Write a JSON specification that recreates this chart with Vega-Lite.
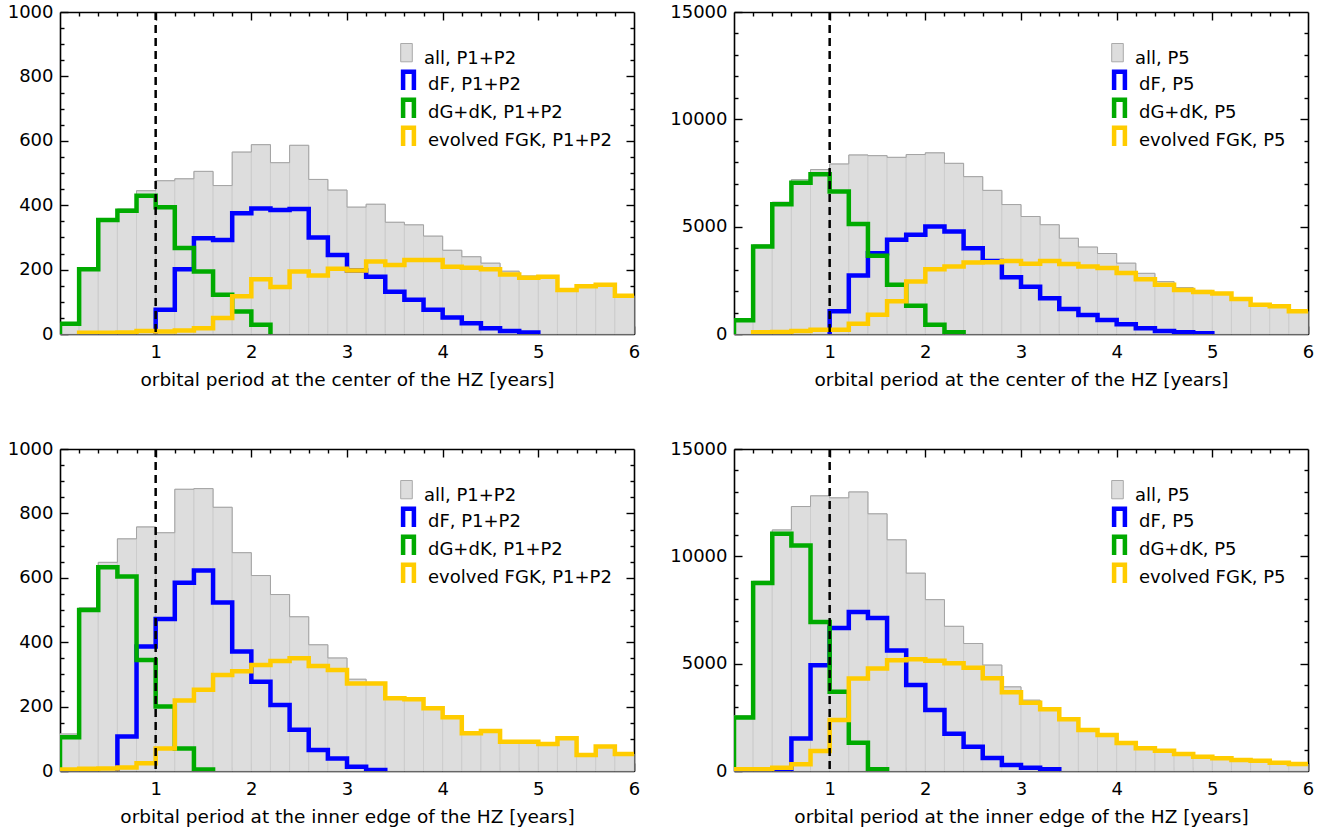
{
"$schema":"https://vega.github.io/schema/vega-lite/v6.json",
"padding":{"left":7,"top":3,"right":5,"bottom":5},
"background":"white",
"config":{"font":"DejaVu Sans","view":{"stroke":null},
"axis":{"labelFont":"DejaVu Sans","labelFontSize":18,"labelColor":"#000","titleFont":"DejaVu Sans","titleFontSize":18.5,"titleFontWeight":"normal","titleColor":"#000","domainColor":"#000","domainWidth":1.6,"tickColor":"#000","tickWidth":1.4,"grid":false,"zindex":1,"labelFlush":false},
"legend":{"labelFont":"DejaVu Sans","labelFontSize":18,"labelColor":"#000","title":null,"symbolSize":400,"labelOffset":7,"rowPadding":-11,"labelLimit":300}},
"datasets":{
"b1":[{"g":"all, P1+P2","x0":0,"x1":0.2,"all":34},{"g":"all, P1+P2","x0":0.2,"x1":0.4,"all":204},{"g":"all, P1+P2","x0":0.4,"x1":0.6,"all":356},{"g":"all, P1+P2","x0":0.6,"x1":0.8,"all":388},{"g":"all, P1+P2","x0":0.8,"x1":1.0,"all":445},{"g":"all, P1+P2","x0":1.0,"x1":1.2,"all":476},{"g":"all, P1+P2","x0":1.2,"x1":1.4,"all":482},{"g":"all, P1+P2","x0":1.4,"x1":1.6,"all":505},{"g":"all, P1+P2","x0":1.6,"x1":1.8,"all":461},{"g":"all, P1+P2","x0":1.8,"x1":2.0,"all":565},{"g":"all, P1+P2","x0":2.0,"x1":2.2,"all":588},{"g":"all, P1+P2","x0":2.2,"x1":2.4,"all":532},{"g":"all, P1+P2","x0":2.4,"x1":2.6,"all":586},{"g":"all, P1+P2","x0":2.6,"x1":2.8,"all":480},{"g":"all, P1+P2","x0":2.8,"x1":3.0,"all":447},{"g":"all, P1+P2","x0":3.0,"x1":3.2,"all":394},{"g":"all, P1+P2","x0":3.2,"x1":3.4,"all":403},{"g":"all, P1+P2","x0":3.4,"x1":3.6,"all":347},{"g":"all, P1+P2","x0":3.6,"x1":3.8,"all":339},{"g":"all, P1+P2","x0":3.8,"x1":4.0,"all":304},{"g":"all, P1+P2","x0":4.0,"x1":4.2,"all":260},{"g":"all, P1+P2","x0":4.2,"x1":4.4,"all":240},{"g":"all, P1+P2","x0":4.4,"x1":4.6,"all":220},{"g":"all, P1+P2","x0":4.6,"x1":4.8,"all":195},{"g":"all, P1+P2","x0":4.8,"x1":5.0,"all":180},{"g":"all, P1+P2","x0":5.0,"x1":5.2,"all":178},{"g":"all, P1+P2","x0":5.2,"x1":5.4,"all":137},{"g":"all, P1+P2","x0":5.4,"x1":5.6,"all":148},{"g":"all, P1+P2","x0":5.6,"x1":5.8,"all":153},{"g":"all, P1+P2","x0":5.8,"x1":6.0,"all":119}],
"l1":[
{"s":"dF, P1+P2","x":1.0,"v":0},{"s":"dF, P1+P2","x":1.0,"v":75},{"s":"dF, P1+P2","x":1.2,"v":201},{"s":"dF, P1+P2","x":1.4,"v":297},{"s":"dF, P1+P2","x":1.6,"v":292},{"s":"dF, P1+P2","x":1.8,"v":375},{"s":"dF, P1+P2","x":2.0,"v":390},{"s":"dF, P1+P2","x":2.2,"v":385},{"s":"dF, P1+P2","x":2.4,"v":388},{"s":"dF, P1+P2","x":2.6,"v":300},{"s":"dF, P1+P2","x":2.8,"v":245},{"s":"dF, P1+P2","x":3.0,"v":197},{"s":"dF, P1+P2","x":3.2,"v":178},{"s":"dF, P1+P2","x":3.4,"v":131},{"s":"dF, P1+P2","x":3.6,"v":106},{"s":"dF, P1+P2","x":3.8,"v":75},{"s":"dF, P1+P2","x":4.0,"v":51},{"s":"dF, P1+P2","x":4.2,"v":33},{"s":"dF, P1+P2","x":4.4,"v":18},{"s":"dF, P1+P2","x":4.6,"v":9},{"s":"dF, P1+P2","x":4.8,"v":5},{"s":"dF, P1+P2","x":5.0,"v":0},
{"s":"dG+dK, P1+P2","x":0,"v":0},{"s":"dG+dK, P1+P2","x":0,"v":32},{"s":"dG+dK, P1+P2","x":0.2,"v":201},{"s":"dG+dK, P1+P2","x":0.4,"v":354},{"s":"dG+dK, P1+P2","x":0.6,"v":383},{"s":"dG+dK, P1+P2","x":0.8,"v":429},{"s":"dG+dK, P1+P2","x":1.0,"v":394},{"s":"dG+dK, P1+P2","x":1.2,"v":267},{"s":"dG+dK, P1+P2","x":1.4,"v":194},{"s":"dG+dK, P1+P2","x":1.6,"v":122},{"s":"dG+dK, P1+P2","x":1.8,"v":70},{"s":"dG+dK, P1+P2","x":2.0,"v":29},{"s":"dG+dK, P1+P2","x":2.2,"v":0},
{"s":"evolved FGK, P1+P2","x":0.2,"v":0},{"s":"evolved FGK, P1+P2","x":0.2,"v":4},{"s":"evolved FGK, P1+P2","x":0.4,"v":4},{"s":"evolved FGK, P1+P2","x":0.6,"v":5},{"s":"evolved FGK, P1+P2","x":0.8,"v":9},{"s":"evolved FGK, P1+P2","x":1.0,"v":8},{"s":"evolved FGK, P1+P2","x":1.2,"v":11},{"s":"evolved FGK, P1+P2","x":1.4,"v":18},{"s":"evolved FGK, P1+P2","x":1.6,"v":50},{"s":"evolved FGK, P1+P2","x":1.8,"v":117},{"s":"evolved FGK, P1+P2","x":2.0,"v":170},{"s":"evolved FGK, P1+P2","x":2.2,"v":146},{"s":"evolved FGK, P1+P2","x":2.4,"v":194},{"s":"evolved FGK, P1+P2","x":2.6,"v":182},{"s":"evolved FGK, P1+P2","x":2.8,"v":203},{"s":"evolved FGK, P1+P2","x":3.0,"v":197},{"s":"evolved FGK, P1+P2","x":3.2,"v":225},{"s":"evolved FGK, P1+P2","x":3.4,"v":214},{"s":"evolved FGK, P1+P2","x":3.6,"v":230},{"s":"evolved FGK, P1+P2","x":3.8,"v":230},{"s":"evolved FGK, P1+P2","x":4.0,"v":209},{"s":"evolved FGK, P1+P2","x":4.2,"v":206},{"s":"evolved FGK, P1+P2","x":4.4,"v":201},{"s":"evolved FGK, P1+P2","x":4.6,"v":185},{"s":"evolved FGK, P1+P2","x":4.8,"v":175},{"s":"evolved FGK, P1+P2","x":5.0,"v":178},{"s":"evolved FGK, P1+P2","x":5.2,"v":137},{"s":"evolved FGK, P1+P2","x":5.4,"v":148},{"s":"evolved FGK, P1+P2","x":5.6,"v":153},{"s":"evolved FGK, P1+P2","x":5.8,"v":119},{"s":"evolved FGK, P1+P2","x":6.0,"v":119}],
"b2":[{"g":"all, P5","x0":0,"x1":0.2,"all":700},{"g":"all, P5","x0":0.2,"x1":0.4,"all":4150},{"g":"all, P5","x0":0.4,"x1":0.6,"all":6140},{"g":"all, P5","x0":0.6,"x1":0.8,"all":7190},{"g":"all, P5","x0":0.8,"x1":1.0,"all":7660},{"g":"all, P5","x0":1.0,"x1":1.2,"all":7920},{"g":"all, P5","x0":1.2,"x1":1.4,"all":8340},{"g":"all, P5","x0":1.4,"x1":1.6,"all":8308},{"g":"all, P5","x0":1.6,"x1":1.8,"all":8230},{"g":"all, P5","x0":1.8,"x1":2.0,"all":8360},{"g":"all, P5","x0":2.0,"x1":2.2,"all":8440},{"g":"all, P5","x0":2.2,"x1":2.4,"all":7950},{"g":"all, P5","x0":2.4,"x1":2.6,"all":7330},{"g":"all, P5","x0":2.6,"x1":2.8,"all":6690},{"g":"all, P5","x0":2.8,"x1":3.0,"all":6030},{"g":"all, P5","x0":3.0,"x1":3.2,"all":5473},{"g":"all, P5","x0":3.2,"x1":3.4,"all":5090},{"g":"all, P5","x0":3.4,"x1":3.6,"all":4460},{"g":"all, P5","x0":3.6,"x1":3.8,"all":4050},{"g":"all, P5","x0":3.8,"x1":4.0,"all":3750},{"g":"all, P5","x0":4.0,"x1":4.2,"all":3300},{"g":"all, P5","x0":4.2,"x1":4.4,"all":2826},{"g":"all, P5","x0":4.4,"x1":4.6,"all":2440},{"g":"all, P5","x0":4.6,"x1":4.8,"all":2160},{"g":"all, P5","x0":4.8,"x1":5.0,"all":2030},{"g":"all, P5","x0":5.0,"x1":5.2,"all":1890},{"g":"all, P5","x0":5.2,"x1":5.4,"all":1630},{"g":"all, P5","x0":5.4,"x1":5.6,"all":1364},{"g":"all, P5","x0":5.6,"x1":5.8,"all":1287},{"g":"all, P5","x0":5.8,"x1":6.0,"all":1054}],
"l2":[
{"s":"dF, P5","x":1.0,"v":0},{"s":"dF, P5","x":1.0,"v":1054},{"s":"dF, P5","x":1.2,"v":2728},{"s":"dF, P5","x":1.4,"v":3766},{"s":"dF, P5","x":1.6,"v":4386},{"s":"dF, P5","x":1.8,"v":4619},{"s":"dF, P5","x":2.0,"v":5006},{"s":"dF, P5","x":2.2,"v":4774},{"s":"dF, P5","x":2.4,"v":4000},{"s":"dF, P5","x":2.6,"v":3400},{"s":"dF, P5","x":2.8,"v":2640},{"s":"dF, P5","x":3.0,"v":2205},{"s":"dF, P5","x":3.2,"v":1662},{"s":"dF, P5","x":3.4,"v":1165},{"s":"dF, P5","x":3.6,"v":885},{"s":"dF, P5","x":3.8,"v":652},{"s":"dF, P5","x":4.0,"v":450},{"s":"dF, P5","x":4.2,"v":264},{"s":"dF, P5","x":4.4,"v":140},{"s":"dF, P5","x":4.6,"v":78},{"s":"dF, P5","x":4.8,"v":31},{"s":"dF, P5","x":5.0,"v":0},
{"s":"dG+dK, P5","x":0,"v":0},{"s":"dG+dK, P5","x":0,"v":640},{"s":"dG+dK, P5","x":0.2,"v":4076},{"s":"dG+dK, P5","x":0.4,"v":6045},{"s":"dG+dK, P5","x":0.6,"v":7050},{"s":"dG+dK, P5","x":0.8,"v":7440},{"s":"dG+dK, P5","x":1.0,"v":6634},{"s":"dG+dK, P5","x":1.2,"v":5130},{"s":"dG+dK, P5","x":1.4,"v":3642},{"s":"dG+dK, P5","x":1.6,"v":2294},{"s":"dG+dK, P5","x":1.8,"v":1317},{"s":"dG+dK, P5","x":2.0,"v":434},{"s":"dG+dK, P5","x":2.2,"v":78},{"s":"dG+dK, P5","x":2.4,"v":0},
{"s":"evolved FGK, P5","x":0.2,"v":0},{"s":"evolved FGK, P5","x":0.2,"v":78},{"s":"evolved FGK, P5","x":0.4,"v":93},{"s":"evolved FGK, P5","x":0.6,"v":140},{"s":"evolved FGK, P5","x":0.8,"v":200},{"s":"evolved FGK, P5","x":1.0,"v":200},{"s":"evolved FGK, P5","x":1.2,"v":480},{"s":"evolved FGK, P5","x":1.4,"v":900},{"s":"evolved FGK, P5","x":1.6,"v":1520},{"s":"evolved FGK, P5","x":1.8,"v":2450},{"s":"evolved FGK, P5","x":2.0,"v":3022},{"s":"evolved FGK, P5","x":2.2,"v":3146},{"s":"evolved FGK, P5","x":2.4,"v":3330},{"s":"evolved FGK, P5","x":2.6,"v":3340},{"s":"evolved FGK, P5","x":2.8,"v":3405},{"s":"evolved FGK, P5","x":3.0,"v":3270},{"s":"evolved FGK, P5","x":3.2,"v":3405},{"s":"evolved FGK, P5","x":3.4,"v":3258},{"s":"evolved FGK, P5","x":3.6,"v":3140},{"s":"evolved FGK, P5","x":3.8,"v":3080},{"s":"evolved FGK, P5","x":4.0,"v":2846},{"s":"evolved FGK, P5","x":4.2,"v":2552},{"s":"evolved FGK, P5","x":4.4,"v":2290},{"s":"evolved FGK, P5","x":4.6,"v":2055},{"s":"evolved FGK, P5","x":4.8,"v":1962},{"s":"evolved FGK, P5","x":5.0,"v":1885},{"s":"evolved FGK, P5","x":5.2,"v":1628},{"s":"evolved FGK, P5","x":5.4,"v":1364},{"s":"evolved FGK, P5","x":5.6,"v":1287},{"s":"evolved FGK, P5","x":5.8,"v":1054},{"s":"evolved FGK, P5","x":6.0,"v":1054}],
"b3":[{"g":"all, P1+P2","x0":0,"x1":0.2,"all":115},{"g":"all, P1+P2","x0":0.2,"x1":0.4,"all":507},{"g":"all, P1+P2","x0":0.4,"x1":0.6,"all":648},{"g":"all, P1+P2","x0":0.6,"x1":0.8,"all":721},{"g":"all, P1+P2","x0":0.8,"x1":1.0,"all":758},{"g":"all, P1+P2","x0":1.0,"x1":1.2,"all":740},{"g":"all, P1+P2","x0":1.2,"x1":1.4,"all":875},{"g":"all, P1+P2","x0":1.4,"x1":1.6,"all":877},{"g":"all, P1+P2","x0":1.6,"x1":1.8,"all":819},{"g":"all, P1+P2","x0":1.8,"x1":2.0,"all":678},{"g":"all, P1+P2","x0":2.0,"x1":2.2,"all":607},{"g":"all, P1+P2","x0":2.2,"x1":2.4,"all":548},{"g":"all, P1+P2","x0":2.4,"x1":2.6,"all":479},{"g":"all, P1+P2","x0":2.6,"x1":2.8,"all":392},{"g":"all, P1+P2","x0":2.8,"x1":3.0,"all":351},{"g":"all, P1+P2","x0":3.0,"x1":3.2,"all":285},{"g":"all, P1+P2","x0":3.2,"x1":3.4,"all":275},{"g":"all, P1+P2","x0":3.4,"x1":3.6,"all":226},{"g":"all, P1+P2","x0":3.6,"x1":3.8,"all":223},{"g":"all, P1+P2","x0":3.8,"x1":4.0,"all":195},{"g":"all, P1+P2","x0":4.0,"x1":4.2,"all":167},{"g":"all, P1+P2","x0":4.2,"x1":4.4,"all":117},{"g":"all, P1+P2","x0":4.4,"x1":4.6,"all":124},{"g":"all, P1+P2","x0":4.6,"x1":4.8,"all":91},{"g":"all, P1+P2","x0":4.8,"x1":5.0,"all":91},{"g":"all, P1+P2","x0":5.0,"x1":5.2,"all":84},{"g":"all, P1+P2","x0":5.2,"x1":5.4,"all":102},{"g":"all, P1+P2","x0":5.4,"x1":5.6,"all":50},{"g":"all, P1+P2","x0":5.6,"x1":5.8,"all":76},{"g":"all, P1+P2","x0":5.8,"x1":6.0,"all":53}],
"l3":[
{"s":"dF, P1+P2","x":0.6,"v":0},{"s":"dF, P1+P2","x":0.6,"v":107},{"s":"dF, P1+P2","x":0.8,"v":387},{"s":"dF, P1+P2","x":1.0,"v":472},{"s":"dF, P1+P2","x":1.2,"v":585},{"s":"dF, P1+P2","x":1.4,"v":623},{"s":"dF, P1+P2","x":1.6,"v":523},{"s":"dF, P1+P2","x":1.8,"v":371},{"s":"dF, P1+P2","x":2.0,"v":277},{"s":"dF, P1+P2","x":2.2,"v":205},{"s":"dF, P1+P2","x":2.4,"v":128},{"s":"dF, P1+P2","x":2.6,"v":65},{"s":"dF, P1+P2","x":2.8,"v":39},{"s":"dF, P1+P2","x":3.0,"v":13},{"s":"dF, P1+P2","x":3.2,"v":3},{"s":"dF, P1+P2","x":3.4,"v":0},
{"s":"dG+dK, P1+P2","x":0,"v":0},{"s":"dG+dK, P1+P2","x":0,"v":105},{"s":"dG+dK, P1+P2","x":0.2,"v":500},{"s":"dG+dK, P1+P2","x":0.4,"v":633},{"s":"dG+dK, P1+P2","x":0.6,"v":604},{"s":"dG+dK, P1+P2","x":0.8,"v":345},{"s":"dG+dK, P1+P2","x":1.0,"v":200},{"s":"dG+dK, P1+P2","x":1.2,"v":70},{"s":"dG+dK, P1+P2","x":1.4,"v":5},{"s":"dG+dK, P1+P2","x":1.6,"v":0},
{"s":"evolved FGK, P1+P2","x":0,"v":0},{"s":"evolved FGK, P1+P2","x":0,"v":5},{"s":"evolved FGK, P1+P2","x":0.2,"v":7},{"s":"evolved FGK, P1+P2","x":0.4,"v":8},{"s":"evolved FGK, P1+P2","x":0.6,"v":11},{"s":"evolved FGK, P1+P2","x":0.8,"v":24},{"s":"evolved FGK, P1+P2","x":1.0,"v":70},{"s":"evolved FGK, P1+P2","x":1.2,"v":219},{"s":"evolved FGK, P1+P2","x":1.4,"v":252},{"s":"evolved FGK, P1+P2","x":1.6,"v":298},{"s":"evolved FGK, P1+P2","x":1.8,"v":310},{"s":"evolved FGK, P1+P2","x":2.0,"v":329},{"s":"evolved FGK, P1+P2","x":2.2,"v":342},{"s":"evolved FGK, P1+P2","x":2.4,"v":350},{"s":"evolved FGK, P1+P2","x":2.6,"v":326},{"s":"evolved FGK, P1+P2","x":2.8,"v":314},{"s":"evolved FGK, P1+P2","x":3.0,"v":272},{"s":"evolved FGK, P1+P2","x":3.2,"v":272},{"s":"evolved FGK, P1+P2","x":3.4,"v":226},{"s":"evolved FGK, P1+P2","x":3.6,"v":223},{"s":"evolved FGK, P1+P2","x":3.8,"v":195},{"s":"evolved FGK, P1+P2","x":4.0,"v":167},{"s":"evolved FGK, P1+P2","x":4.2,"v":117},{"s":"evolved FGK, P1+P2","x":4.4,"v":124},{"s":"evolved FGK, P1+P2","x":4.6,"v":91},{"s":"evolved FGK, P1+P2","x":4.8,"v":91},{"s":"evolved FGK, P1+P2","x":5.0,"v":84},{"s":"evolved FGK, P1+P2","x":5.2,"v":102},{"s":"evolved FGK, P1+P2","x":5.4,"v":50},{"s":"evolved FGK, P1+P2","x":5.6,"v":76},{"s":"evolved FGK, P1+P2","x":5.8,"v":53},{"s":"evolved FGK, P1+P2","x":6.0,"v":53}],
"b4":[{"g":"all, P5","x0":0,"x1":0.2,"all":2570},{"g":"all, P5","x0":0.2,"x1":0.4,"all":8836},{"g":"all, P5","x0":0.4,"x1":0.6,"all":11230},{"g":"all, P5","x0":0.6,"x1":0.8,"all":12320},{"g":"all, P5","x0":0.8,"x1":1.0,"all":12820},{"g":"all, P5","x0":1.0,"x1":1.2,"all":12725},{"g":"all, P5","x0":1.2,"x1":1.4,"all":13000},{"g":"all, P5","x0":1.4,"x1":1.6,"all":11981},{"g":"all, P5","x0":1.6,"x1":1.8,"all":10770},{"g":"all, P5","x0":1.8,"x1":2.0,"all":9215},{"g":"all, P5","x0":2.0,"x1":2.2,"all":7982},{"g":"all, P5","x0":2.2,"x1":2.4,"all":6740},{"g":"all, P5","x0":2.4,"x1":2.6,"all":5940},{"g":"all, P5","x0":2.6,"x1":2.8,"all":4935},{"g":"all, P5","x0":2.8,"x1":3.0,"all":3920},{"g":"all, P5","x0":3.0,"x1":3.2,"all":3300},{"g":"all, P5","x0":3.2,"x1":3.4,"all":2950},{"g":"all, P5","x0":3.4,"x1":3.6,"all":2407},{"g":"all, P5","x0":3.6,"x1":3.8,"all":1910},{"g":"all, P5","x0":3.8,"x1":4.0,"all":1677},{"g":"all, P5","x0":4.0,"x1":4.2,"all":1300},{"g":"all, P5","x0":4.2,"x1":4.4,"all":1054},{"g":"all, P5","x0":4.4,"x1":4.6,"all":946},{"g":"all, P5","x0":4.6,"x1":4.8,"all":790},{"g":"all, P5","x0":4.8,"x1":5.0,"all":667},{"g":"all, P5","x0":5.0,"x1":5.2,"all":589},{"g":"all, P5","x0":5.2,"x1":5.4,"all":512},{"g":"all, P5","x0":5.4,"x1":5.6,"all":481},{"g":"all, P5","x0":5.6,"x1":5.8,"all":388},{"g":"all, P5","x0":5.8,"x1":6.0,"all":326}],
"l4":[
{"s":"dF, P5","x":0.4,"v":0},{"s":"dF, P5","x":0.4,"v":40},{"s":"dF, P5","x":0.6,"v":1519},{"s":"dF, P5","x":0.8,"v":4929},{"s":"dF, P5","x":1.0,"v":6665},{"s":"dF, P5","x":1.2,"v":7409},{"s":"dF, P5","x":1.4,"v":7130},{"s":"dF, P5","x":1.6,"v":5610},{"s":"dF, P5","x":1.8,"v":4006},{"s":"dF, P5","x":2.0,"v":2842},{"s":"dF, P5","x":2.2,"v":1730},{"s":"dF, P5","x":2.4,"v":1134},{"s":"dF, P5","x":2.6,"v":610},{"s":"dF, P5","x":2.8,"v":280},{"s":"dF, P5","x":3.0,"v":155},{"s":"dF, P5","x":3.2,"v":78},{"s":"dF, P5","x":3.4,"v":0},
{"s":"dG+dK, P5","x":0,"v":0},{"s":"dG+dK, P5","x":0,"v":2496},{"s":"dG+dK, P5","x":0.2,"v":8758},{"s":"dG+dK, P5","x":0.4,"v":11052},{"s":"dG+dK, P5","x":0.6,"v":10509},{"s":"dG+dK, P5","x":0.8,"v":6944},{"s":"dG+dK, P5","x":1.0,"v":3689},{"s":"dG+dK, P5","x":1.2,"v":1318},{"s":"dG+dK, P5","x":1.4,"v":78},{"s":"dG+dK, P5","x":1.6,"v":0},
{"s":"evolved FGK, P5","x":0,"v":0},{"s":"evolved FGK, P5","x":0,"v":78},{"s":"evolved FGK, P5","x":0.2,"v":78},{"s":"evolved FGK, P5","x":0.4,"v":155},{"s":"evolved FGK, P5","x":0.6,"v":310},{"s":"evolved FGK, P5","x":0.8,"v":930},{"s":"evolved FGK, P5","x":1.0,"v":2372},{"s":"evolved FGK, P5","x":1.2,"v":4309},{"s":"evolved FGK, P5","x":1.4,"v":4774},{"s":"evolved FGK, P5","x":1.6,"v":5162},{"s":"evolved FGK, P5","x":1.8,"v":5200},{"s":"evolved FGK, P5","x":2.0,"v":5140},{"s":"evolved FGK, P5","x":2.2,"v":5016},{"s":"evolved FGK, P5","x":2.4,"v":4814},{"s":"evolved FGK, P5","x":2.6,"v":4317},{"s":"evolved FGK, P5","x":2.8,"v":3665},{"s":"evolved FGK, P5","x":3.0,"v":3183},{"s":"evolved FGK, P5","x":3.2,"v":2873},{"s":"evolved FGK, P5","x":3.4,"v":2407},{"s":"evolved FGK, P5","x":3.6,"v":1910},{"s":"evolved FGK, P5","x":3.8,"v":1677},{"s":"evolved FGK, P5","x":4.0,"v":1300},{"s":"evolved FGK, P5","x":4.2,"v":1054},{"s":"evolved FGK, P5","x":4.4,"v":946},{"s":"evolved FGK, P5","x":4.6,"v":790},{"s":"evolved FGK, P5","x":4.8,"v":667},{"s":"evolved FGK, P5","x":5.0,"v":589},{"s":"evolved FGK, P5","x":5.2,"v":512},{"s":"evolved FGK, P5","x":5.4,"v":481},{"s":"evolved FGK, P5","x":5.6,"v":388},{"s":"evolved FGK, P5","x":5.8,"v":326},{"s":"evolved FGK, P5","x":6.0,"v":326}]
},
"columns":2,
"spacing":{"row":115,"column":100},
"bounds":"flush",
"resolve":{"scale":{"color":"independent","fill":"independent"},"legend":{"color":"independent","fill":"independent"}},
"concat":[
{"width":574,"height":322,"resolve":{"axis":{"x":"independent","y":"independent"}},
"layer":[
{"data":{"name":"b1"},"mark":{"type":"rect","stroke":"#cccccc","strokeWidth":1},
"encoding":{"x":{"field":"x0","type":"quantitative","scale":{"domain":[0,6],"nice":false,"zero":false},"axis":{"orient":"bottom","values":[1,2,3,4,5,6],"format":"d","tickSize":-8,"labelPadding":17,"title":"orbital period at the center of the HZ [years]","titlePadding":9}},"x2":{"field":"x1"},
"y":{"field":"all","type":"quantitative","scale":{"domain":[0,1000],"nice":false},"axis":{"orient":"left","values":[0,200,400,600,800,1000],"format":"d","tickSize":-8,"labelPadding":15,"title":null}},"y2":{"datum":0},
"fill":{"field":"g","type":"nominal","scale":{"range":["#dddddd"]},"legend":{"orient":"none","legendX":336,"legendY":36,"symbolType":"M-0.58,-1.5L0.58,-1.5L0.58,0.33L-0.58,0.33Z","symbolStrokeColor":"#aaaaaa","symbolStrokeWidth":1}}}},
{"data":{"name":"b1"},"mark":{"type":"line","interpolate":"step-after","strokeWidth":1,"color":"#a4a4a4","clip":true},
"encoding":{"x":{"field":"x0","type":"quantitative","scale":{"domain":[0,6],"nice":false,"zero":false},"axis":null},"y":{"field":"all","type":"quantitative","scale":{"domain":[0,1000],"nice":false},"axis":null}}},
{"data":{"name":"l1"},"transform":[{"filter":"datum.s === 'dF, P1+P2'"}],"mark":{"type":"line","interpolate":"step-after","strokeWidth":4.5,"clip":true,"strokeCap":"butt"},
"encoding":{"x":{"field":"x","type":"quantitative","scale":{"domain":[0,6],"nice":false,"zero":false},"axis":{"orient":"bottom","values":[0.2,0.4,0.6,0.8,1.2,1.4,1.6,1.8,2.2,2.4,2.6,2.8,3.2,3.4,3.6,3.8,4.2,4.4,4.6,4.8,5.2,5.4,5.6,5.8],"tickSize":-4,"labels":false,"domain":false,"title":null}},
"y":{"field":"v","type":"quantitative","scale":{"domain":[0,1000],"nice":false},"axis":{"orient":"left","values":[50,100,150,250,300,350,450,500,550,650,700,750,850,900,950],"tickSize":-4,"labels":false,"domain":false,"title":null}},
"color":{"field":"s","type":"nominal","scale":{"domain":["dF, P1+P2","dG+dK, P1+P2","evolved FGK, P1+P2"],"range":["#0000ff","#00aa00","#ffcc00"]},
"legend":{"orient":"none","legendX":336,"legendY":60,"symbolStrokeWidth":4.5,"symbolType":"M-0.54,0.56L-0.54,-1.27L0.54,-1.27L0.54,0.56"}},
"order":{"value":null}}},
{"data":{"name":"l1"},"transform":[{"filter":"datum.s === 'dG+dK, P1+P2'"}],"mark":{"type":"line","interpolate":"step-after","strokeWidth":4.5,"clip":true,"strokeCap":"butt","color":"#00aa00"},
"encoding":{"x":{"field":"x","type":"quantitative","scale":{"domain":[0,6],"nice":false,"zero":false},"axis":{"orient":"top","values":[1,2,3,4,5],"tickSize":-8,"labels":false,"title":null}},
"y":{"field":"v","type":"quantitative","scale":{"domain":[0,1000],"nice":false},"axis":{"orient":"right","values":[200,400,600,800],"tickSize":-8,"labels":false,"title":null}},"order":{"value":null}}},
{"data":{"name":"l1"},"transform":[{"filter":"datum.s === 'evolved FGK, P1+P2'"}],"mark":{"type":"line","interpolate":"step-after","strokeWidth":4.5,"clip":true,"strokeCap":"butt","color":"#ffcc00"},
"encoding":{"x":{"field":"x","type":"quantitative","scale":{"domain":[0,6],"nice":false,"zero":false},"axis":{"orient":"top","values":[0.2,0.4,0.6,0.8,1.2,1.4,1.6,1.8,2.2,2.4,2.6,2.8,3.2,3.4,3.6,3.8,4.2,4.4,4.6,4.8,5.2,5.4,5.6,5.8],"tickSize":-4,"labels":false,"domain":false,"title":null}},
"y":{"field":"v","type":"quantitative","scale":{"domain":[0,1000],"nice":false},"axis":{"orient":"right","values":[50,100,150,250,300,350,450,500,550,650,700,750,850,900,950],"tickSize":-4,"labels":false,"domain":false,"title":null}},"order":{"value":null}}},
{"data":{"values":[{"p":1}]},"mark":{"type":"rule","strokeDash":[8,5],"strokeWidth":2.5,"color":"#000"},"encoding":{"x":{"field":"p","type":"quantitative","axis":null}}}
]},
{"width":574,"height":322,"resolve":{"axis":{"x":"independent","y":"independent"}},
"layer":[
{"data":{"name":"b2"},"mark":{"type":"rect","stroke":"#cccccc","strokeWidth":1},
"encoding":{"x":{"field":"x0","type":"quantitative","scale":{"domain":[0,6],"nice":false,"zero":false},"axis":{"orient":"bottom","values":[1,2,3,4,5,6],"format":"d","tickSize":-8,"labelPadding":17,"title":"orbital period at the center of the HZ [years]","titlePadding":9}},"x2":{"field":"x1"},
"y":{"field":"all","type":"quantitative","scale":{"domain":[0,15000],"nice":false},"axis":{"orient":"left","values":[0,5000,10000,15000],"format":"d","tickSize":-8,"labelPadding":15,"title":null}},"y2":{"datum":0},
"fill":{"field":"g","type":"nominal","scale":{"range":["#dddddd"]},"legend":{"orient":"none","legendX":373,"legendY":36,"symbolType":"M-0.58,-1.5L0.58,-1.5L0.58,0.33L-0.58,0.33Z","symbolStrokeColor":"#aaaaaa","symbolStrokeWidth":1}}}},
{"data":{"name":"b2"},"mark":{"type":"line","interpolate":"step-after","strokeWidth":1,"color":"#a4a4a4","clip":true},
"encoding":{"x":{"field":"x0","type":"quantitative","scale":{"domain":[0,6],"nice":false,"zero":false},"axis":null},"y":{"field":"all","type":"quantitative","scale":{"domain":[0,15000],"nice":false},"axis":null}}},
{"data":{"name":"l2"},"transform":[{"filter":"datum.s === 'dF, P5'"}],"mark":{"type":"line","interpolate":"step-after","strokeWidth":4.5,"clip":true,"strokeCap":"butt"},
"encoding":{"x":{"field":"x","type":"quantitative","scale":{"domain":[0,6],"nice":false,"zero":false},"axis":{"orient":"bottom","values":[0.2,0.4,0.6,0.8,1.2,1.4,1.6,1.8,2.2,2.4,2.6,2.8,3.2,3.4,3.6,3.8,4.2,4.4,4.6,4.8,5.2,5.4,5.6,5.8],"tickSize":-4,"labels":false,"domain":false,"title":null}},
"y":{"field":"v","type":"quantitative","scale":{"domain":[0,15000],"nice":false},"axis":{"orient":"left","values":[1000,2000,3000,4000,6000,7000,8000,9000,11000,12000,13000,14000],"tickSize":-4,"labels":false,"domain":false,"title":null}},
"color":{"field":"s","type":"nominal","scale":{"domain":["dF, P5","dG+dK, P5","evolved FGK, P5"],"range":["#0000ff","#00aa00","#ffcc00"]},
"legend":{"orient":"none","legendX":373,"legendY":60,"symbolStrokeWidth":4.5,"symbolType":"M-0.54,0.56L-0.54,-1.27L0.54,-1.27L0.54,0.56"}},
"order":{"value":null}}},
{"data":{"name":"l2"},"transform":[{"filter":"datum.s === 'dG+dK, P5'"}],"mark":{"type":"line","interpolate":"step-after","strokeWidth":4.5,"clip":true,"strokeCap":"butt","color":"#00aa00"},
"encoding":{"x":{"field":"x","type":"quantitative","scale":{"domain":[0,6],"nice":false,"zero":false},"axis":{"orient":"top","values":[1,2,3,4,5],"tickSize":-8,"labels":false,"title":null}},
"y":{"field":"v","type":"quantitative","scale":{"domain":[0,15000],"nice":false},"axis":{"orient":"right","values":[5000,10000],"tickSize":-8,"labels":false,"title":null}},"order":{"value":null}}},
{"data":{"name":"l2"},"transform":[{"filter":"datum.s === 'evolved FGK, P5'"}],"mark":{"type":"line","interpolate":"step-after","strokeWidth":4.5,"clip":true,"strokeCap":"butt","color":"#ffcc00"},
"encoding":{"x":{"field":"x","type":"quantitative","scale":{"domain":[0,6],"nice":false,"zero":false},"axis":{"orient":"top","values":[0.2,0.4,0.6,0.8,1.2,1.4,1.6,1.8,2.2,2.4,2.6,2.8,3.2,3.4,3.6,3.8,4.2,4.4,4.6,4.8,5.2,5.4,5.6,5.8],"tickSize":-4,"labels":false,"domain":false,"title":null}},
"y":{"field":"v","type":"quantitative","scale":{"domain":[0,15000],"nice":false},"axis":{"orient":"right","values":[1000,2000,3000,4000,6000,7000,8000,9000,11000,12000,13000,14000],"tickSize":-4,"labels":false,"domain":false,"title":null}},"order":{"value":null}}},
{"data":{"values":[{"p":1}]},"mark":{"type":"rule","strokeDash":[8,5],"strokeWidth":2.5,"color":"#000"},"encoding":{"x":{"field":"p","type":"quantitative","axis":null}}}
]},
{"width":574,"height":322,"resolve":{"axis":{"x":"independent","y":"independent"}},
"layer":[
{"data":{"name":"b3"},"mark":{"type":"rect","stroke":"#cccccc","strokeWidth":1},
"encoding":{"x":{"field":"x0","type":"quantitative","scale":{"domain":[0,6],"nice":false,"zero":false},"axis":{"orient":"bottom","values":[1,2,3,4,5,6],"format":"d","tickSize":-8,"labelPadding":17,"title":"orbital period at the inner edge of the HZ [years]","titlePadding":9}},"x2":{"field":"x1"},
"y":{"field":"all","type":"quantitative","scale":{"domain":[0,1000],"nice":false},"axis":{"orient":"left","values":[0,200,400,600,800,1000],"format":"d","tickSize":-8,"labelPadding":15,"title":null}},"y2":{"datum":0},
"fill":{"field":"g","type":"nominal","scale":{"range":["#dddddd"]},"legend":{"orient":"none","legendX":336,"legendY":36,"symbolType":"M-0.58,-1.5L0.58,-1.5L0.58,0.33L-0.58,0.33Z","symbolStrokeColor":"#aaaaaa","symbolStrokeWidth":1}}}},
{"data":{"name":"b3"},"mark":{"type":"line","interpolate":"step-after","strokeWidth":1,"color":"#a4a4a4","clip":true},
"encoding":{"x":{"field":"x0","type":"quantitative","scale":{"domain":[0,6],"nice":false,"zero":false},"axis":null},"y":{"field":"all","type":"quantitative","scale":{"domain":[0,1000],"nice":false},"axis":null}}},
{"data":{"name":"l3"},"transform":[{"filter":"datum.s === 'dF, P1+P2'"}],"mark":{"type":"line","interpolate":"step-after","strokeWidth":4.5,"clip":true,"strokeCap":"butt"},
"encoding":{"x":{"field":"x","type":"quantitative","scale":{"domain":[0,6],"nice":false,"zero":false},"axis":{"orient":"bottom","values":[0.2,0.4,0.6,0.8,1.2,1.4,1.6,1.8,2.2,2.4,2.6,2.8,3.2,3.4,3.6,3.8,4.2,4.4,4.6,4.8,5.2,5.4,5.6,5.8],"tickSize":-4,"labels":false,"domain":false,"title":null}},
"y":{"field":"v","type":"quantitative","scale":{"domain":[0,1000],"nice":false},"axis":{"orient":"left","values":[50,100,150,250,300,350,450,500,550,650,700,750,850,900,950],"tickSize":-4,"labels":false,"domain":false,"title":null}},
"color":{"field":"s","type":"nominal","scale":{"domain":["dF, P1+P2","dG+dK, P1+P2","evolved FGK, P1+P2"],"range":["#0000ff","#00aa00","#ffcc00"]},
"legend":{"orient":"none","legendX":336,"legendY":60,"symbolStrokeWidth":4.5,"symbolType":"M-0.54,0.56L-0.54,-1.27L0.54,-1.27L0.54,0.56"}},
"order":{"value":null}}},
{"data":{"name":"l3"},"transform":[{"filter":"datum.s === 'dG+dK, P1+P2'"}],"mark":{"type":"line","interpolate":"step-after","strokeWidth":4.5,"clip":true,"strokeCap":"butt","color":"#00aa00"},
"encoding":{"x":{"field":"x","type":"quantitative","scale":{"domain":[0,6],"nice":false,"zero":false},"axis":{"orient":"top","values":[1,2,3,4,5],"tickSize":-8,"labels":false,"title":null}},
"y":{"field":"v","type":"quantitative","scale":{"domain":[0,1000],"nice":false},"axis":{"orient":"right","values":[200,400,600,800],"tickSize":-8,"labels":false,"title":null}},"order":{"value":null}}},
{"data":{"name":"l3"},"transform":[{"filter":"datum.s === 'evolved FGK, P1+P2'"}],"mark":{"type":"line","interpolate":"step-after","strokeWidth":4.5,"clip":true,"strokeCap":"butt","color":"#ffcc00"},
"encoding":{"x":{"field":"x","type":"quantitative","scale":{"domain":[0,6],"nice":false,"zero":false},"axis":{"orient":"top","values":[0.2,0.4,0.6,0.8,1.2,1.4,1.6,1.8,2.2,2.4,2.6,2.8,3.2,3.4,3.6,3.8,4.2,4.4,4.6,4.8,5.2,5.4,5.6,5.8],"tickSize":-4,"labels":false,"domain":false,"title":null}},
"y":{"field":"v","type":"quantitative","scale":{"domain":[0,1000],"nice":false},"axis":{"orient":"right","values":[50,100,150,250,300,350,450,500,550,650,700,750,850,900,950],"tickSize":-4,"labels":false,"domain":false,"title":null}},"order":{"value":null}}},
{"data":{"values":[{"p":1}]},"mark":{"type":"rule","strokeDash":[8,5],"strokeWidth":2.5,"color":"#000"},"encoding":{"x":{"field":"p","type":"quantitative","axis":null}}}
]},
{"width":574,"height":322,"resolve":{"axis":{"x":"independent","y":"independent"}},
"layer":[
{"data":{"name":"b4"},"mark":{"type":"rect","stroke":"#cccccc","strokeWidth":1},
"encoding":{"x":{"field":"x0","type":"quantitative","scale":{"domain":[0,6],"nice":false,"zero":false},"axis":{"orient":"bottom","values":[1,2,3,4,5,6],"format":"d","tickSize":-8,"labelPadding":17,"title":"orbital period at the inner edge of the HZ [years]","titlePadding":9}},"x2":{"field":"x1"},
"y":{"field":"all","type":"quantitative","scale":{"domain":[0,15000],"nice":false},"axis":{"orient":"left","values":[0,5000,10000,15000],"format":"d","tickSize":-8,"labelPadding":15,"title":null}},"y2":{"datum":0},
"fill":{"field":"g","type":"nominal","scale":{"range":["#dddddd"]},"legend":{"orient":"none","legendX":373,"legendY":36,"symbolType":"M-0.58,-1.5L0.58,-1.5L0.58,0.33L-0.58,0.33Z","symbolStrokeColor":"#aaaaaa","symbolStrokeWidth":1}}}},
{"data":{"name":"b4"},"mark":{"type":"line","interpolate":"step-after","strokeWidth":1,"color":"#a4a4a4","clip":true},
"encoding":{"x":{"field":"x0","type":"quantitative","scale":{"domain":[0,6],"nice":false,"zero":false},"axis":null},"y":{"field":"all","type":"quantitative","scale":{"domain":[0,15000],"nice":false},"axis":null}}},
{"data":{"name":"l4"},"transform":[{"filter":"datum.s === 'dF, P5'"}],"mark":{"type":"line","interpolate":"step-after","strokeWidth":4.5,"clip":true,"strokeCap":"butt"},
"encoding":{"x":{"field":"x","type":"quantitative","scale":{"domain":[0,6],"nice":false,"zero":false},"axis":{"orient":"bottom","values":[0.2,0.4,0.6,0.8,1.2,1.4,1.6,1.8,2.2,2.4,2.6,2.8,3.2,3.4,3.6,3.8,4.2,4.4,4.6,4.8,5.2,5.4,5.6,5.8],"tickSize":-4,"labels":false,"domain":false,"title":null}},
"y":{"field":"v","type":"quantitative","scale":{"domain":[0,15000],"nice":false},"axis":{"orient":"left","values":[1000,2000,3000,4000,6000,7000,8000,9000,11000,12000,13000,14000],"tickSize":-4,"labels":false,"domain":false,"title":null}},
"color":{"field":"s","type":"nominal","scale":{"domain":["dF, P5","dG+dK, P5","evolved FGK, P5"],"range":["#0000ff","#00aa00","#ffcc00"]},
"legend":{"orient":"none","legendX":373,"legendY":60,"symbolStrokeWidth":4.5,"symbolType":"M-0.54,0.56L-0.54,-1.27L0.54,-1.27L0.54,0.56"}},
"order":{"value":null}}},
{"data":{"name":"l4"},"transform":[{"filter":"datum.s === 'dG+dK, P5'"}],"mark":{"type":"line","interpolate":"step-after","strokeWidth":4.5,"clip":true,"strokeCap":"butt","color":"#00aa00"},
"encoding":{"x":{"field":"x","type":"quantitative","scale":{"domain":[0,6],"nice":false,"zero":false},"axis":{"orient":"top","values":[1,2,3,4,5],"tickSize":-8,"labels":false,"title":null}},
"y":{"field":"v","type":"quantitative","scale":{"domain":[0,15000],"nice":false},"axis":{"orient":"right","values":[5000,10000],"tickSize":-8,"labels":false,"title":null}},"order":{"value":null}}},
{"data":{"name":"l4"},"transform":[{"filter":"datum.s === 'evolved FGK, P5'"}],"mark":{"type":"line","interpolate":"step-after","strokeWidth":4.5,"clip":true,"strokeCap":"butt","color":"#ffcc00"},
"encoding":{"x":{"field":"x","type":"quantitative","scale":{"domain":[0,6],"nice":false,"zero":false},"axis":{"orient":"top","values":[0.2,0.4,0.6,0.8,1.2,1.4,1.6,1.8,2.2,2.4,2.6,2.8,3.2,3.4,3.6,3.8,4.2,4.4,4.6,4.8,5.2,5.4,5.6,5.8],"tickSize":-4,"labels":false,"domain":false,"title":null}},
"y":{"field":"v","type":"quantitative","scale":{"domain":[0,15000],"nice":false},"axis":{"orient":"right","values":[1000,2000,3000,4000,6000,7000,8000,9000,11000,12000,13000,14000],"tickSize":-4,"labels":false,"domain":false,"title":null}},"order":{"value":null}}},
{"data":{"values":[{"p":1}]},"mark":{"type":"rule","strokeDash":[8,5],"strokeWidth":2.5,"color":"#000"},"encoding":{"x":{"field":"p","type":"quantitative","axis":null}}}
]}
]
}
